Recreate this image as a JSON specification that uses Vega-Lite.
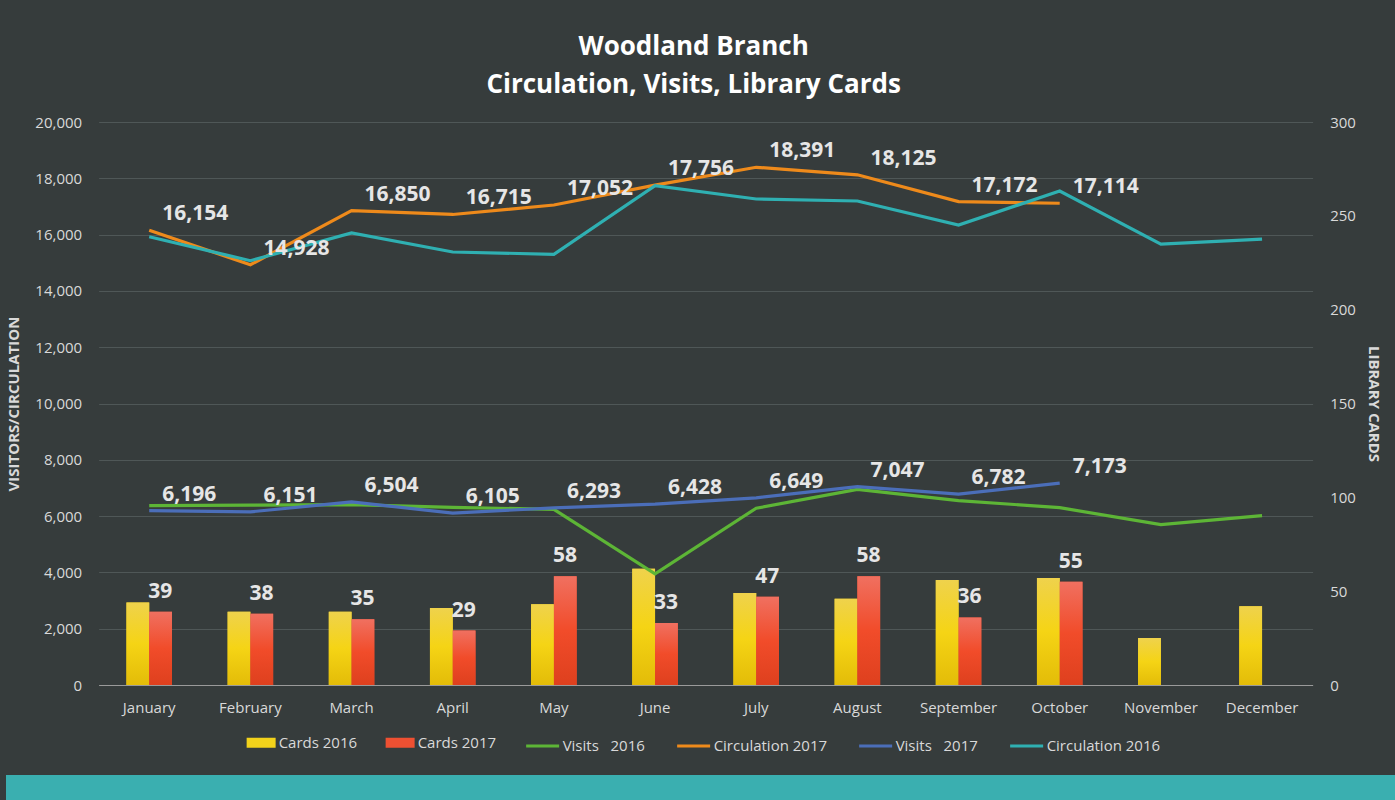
{
  "$schema": "https://vega.github.io/schema/vega-lite/v6.json",
  "background": "#363C3C",
  "padding": {"top": 34, "left": 6, "right": 0, "bottom": 0},
  "spacing": 21,
  "center": true,
  "resolve": {"legend": {"fill": "independent", "stroke": "independent"}},
  "config": {
    "font": "Open Sans",
    "view": {"stroke": null},
    "axis": {
      "labelFont": "Open Sans",
      "labelColor": "#D9D9D9",
      "labelFontSize": 15,
      "titleFont": "Open Sans",
      "titleColor": "#D9D9D9",
      "titleFontSize": 15,
      "titleFontWeight": "bold",
      "domain": false,
      "ticks": false,
      "tickSize": 0
    },
    "legend": {
      "labelFont": "Open Sans",
      "labelColor": "#D9D9D9",
      "labelFontSize": 15,
      "padding": 0
    }
  },
  "datasets": {
    "cards": [
      {"month": "January", "series": "Cards 2016", "value": 44},
      {"month": "February", "series": "Cards 2016", "value": 39},
      {"month": "March", "series": "Cards 2016", "value": 39},
      {"month": "April", "series": "Cards 2016", "value": 41},
      {"month": "May", "series": "Cards 2016", "value": 43},
      {"month": "June", "series": "Cards 2016", "value": 62},
      {"month": "July", "series": "Cards 2016", "value": 49},
      {"month": "August", "series": "Cards 2016", "value": 46},
      {"month": "September", "series": "Cards 2016", "value": 56},
      {"month": "October", "series": "Cards 2016", "value": 57},
      {"month": "November", "series": "Cards 2016", "value": 25},
      {"month": "December", "series": "Cards 2016", "value": 42},
      {"month": "January", "series": "Cards 2017", "value": 39},
      {"month": "February", "series": "Cards 2017", "value": 38},
      {"month": "March", "series": "Cards 2017", "value": 35},
      {"month": "April", "series": "Cards 2017", "value": 29},
      {"month": "May", "series": "Cards 2017", "value": 58},
      {"month": "June", "series": "Cards 2017", "value": 33},
      {"month": "July", "series": "Cards 2017", "value": 47},
      {"month": "August", "series": "Cards 2017", "value": 58},
      {"month": "September", "series": "Cards 2017", "value": 36},
      {"month": "October", "series": "Cards 2017", "value": 55}
    ],
    "lines": [
      {"month": "January", "series": "Visits\u00a0\u00a0\u00a02016", "value": 6370},
      {"month": "February", "series": "Visits\u00a0\u00a0\u00a02016", "value": 6390},
      {"month": "March", "series": "Visits\u00a0\u00a0\u00a02016", "value": 6405},
      {"month": "April", "series": "Visits\u00a0\u00a0\u00a02016", "value": 6310},
      {"month": "May", "series": "Visits\u00a0\u00a0\u00a02016", "value": 6240},
      {"month": "June", "series": "Visits\u00a0\u00a0\u00a02016", "value": 3945},
      {"month": "July", "series": "Visits\u00a0\u00a0\u00a02016", "value": 6280},
      {"month": "August", "series": "Visits\u00a0\u00a0\u00a02016", "value": 6950},
      {"month": "September", "series": "Visits\u00a0\u00a0\u00a02016", "value": 6550},
      {"month": "October", "series": "Visits\u00a0\u00a0\u00a02016", "value": 6300},
      {"month": "November", "series": "Visits\u00a0\u00a0\u00a02016", "value": 5695},
      {"month": "December", "series": "Visits\u00a0\u00a0\u00a02016", "value": 6015},
      {"month": "January", "series": "Circulation 2017", "value": 16154},
      {"month": "February", "series": "Circulation 2017", "value": 14928},
      {"month": "March", "series": "Circulation 2017", "value": 16850},
      {"month": "April", "series": "Circulation 2017", "value": 16715},
      {"month": "May", "series": "Circulation 2017", "value": 17052},
      {"month": "June", "series": "Circulation 2017", "value": 17756},
      {"month": "July", "series": "Circulation 2017", "value": 18391},
      {"month": "August", "series": "Circulation 2017", "value": 18125},
      {"month": "September", "series": "Circulation 2017", "value": 17172},
      {"month": "October", "series": "Circulation 2017", "value": 17114},
      {"month": "January", "series": "Visits\u00a0\u00a0\u00a02017", "value": 6196},
      {"month": "February", "series": "Visits\u00a0\u00a0\u00a02017", "value": 6151},
      {"month": "March", "series": "Visits\u00a0\u00a0\u00a02017", "value": 6504},
      {"month": "April", "series": "Visits\u00a0\u00a0\u00a02017", "value": 6105},
      {"month": "May", "series": "Visits\u00a0\u00a0\u00a02017", "value": 6293},
      {"month": "June", "series": "Visits\u00a0\u00a0\u00a02017", "value": 6428},
      {"month": "July", "series": "Visits\u00a0\u00a0\u00a02017", "value": 6649},
      {"month": "August", "series": "Visits\u00a0\u00a0\u00a02017", "value": 7047},
      {"month": "September", "series": "Visits\u00a0\u00a0\u00a02017", "value": 6782},
      {"month": "October", "series": "Visits\u00a0\u00a0\u00a02017", "value": 7173},
      {"month": "January", "series": "Circulation 2016", "value": 15925},
      {"month": "February", "series": "Circulation 2016", "value": 15073},
      {"month": "March", "series": "Circulation 2016", "value": 16057},
      {"month": "April", "series": "Circulation 2016", "value": 15382},
      {"month": "May", "series": "Circulation 2016", "value": 15300},
      {"month": "June", "series": "Circulation 2016", "value": 17737},
      {"month": "July", "series": "Circulation 2016", "value": 17265},
      {"month": "August", "series": "Circulation 2016", "value": 17194},
      {"month": "September", "series": "Circulation 2016", "value": 16341},
      {"month": "October", "series": "Circulation 2016", "value": 17549},
      {"month": "November", "series": "Circulation 2016", "value": 15660},
      {"month": "December", "series": "Circulation 2016", "value": 15840}
    ]
  },
  "vconcat": [
    {
      "title": {
        "text": ["Woodland Branch", "Circulation, Visits, Library Cards"],
        "font": "Open Sans",
        "fontSize": 26,
        "fontWeight": "bold",
        "color": "#FFFFFF",
        "lineHeight": 38,
        "anchor": "middle",
        "frame": "bounds",
        "offset": 17
      },
      "width": 1214,
      "height": 563,
      "encoding": {
        "x": {
          "field": "month",
          "type": "nominal",
          "sort": ["January", "February", "March", "April", "May", "June", "July", "August", "September", "October", "November", "December"],
          "scale": {"paddingInner": 0.55, "paddingOuter": 0.275},
          "axis": {
            "title": null,
            "labelAngle": 0,
            "labelPadding": 15,
            "domain": true,
            "domainColor": "#9A9A9A",
            "domainWidth": 1,
            "grid": false
          }
        }
      },
      "layer": [
        {
          "data": {"name": "cards"},
          "encoding": {
            "y": {
              "field": "value",
              "type": "quantitative",
              "scale": {"domain": [0, 300]},
              "axis": {
                "orient": "right",
                "title": "LIBRARY CARDS",
                "values": [0, 50, 100, 150, 200, 250, 300],
                "grid": false,
                "labelPadding": 17,
                "titlePadding": 10
              }
            }
          },
          "layer": [
            {
              "mark": {"type": "bar"},
              "encoding": {
                "xOffset": {"field": "series", "type": "nominal", "scale": {"domain": ["Cards 2016", "Cards 2017"], "paddingInner": 0, "paddingOuter": 0}},
                "fill": {
                  "field": "series",
                  "type": "nominal",
                  "scale": {"domain": ["Cards 2016", "Cards 2017"], "range": ["#F2D21B", "#EE5032"]},
                  "legend": {
                    "orient": "none",
                    "legendX": 148,
                    "legendY": 606,
                    "direction": "horizontal",
                    "title": null,
                    "symbolType": "M-1,-0.345H1V0.345H-1Z",
                    "symbolSize": 841,
                    "symbolStrokeWidth": 0,
                    "columnPadding": 28,
                    "labelOffset": 3
                  }
                }
              }
            },
            {
              "transform": [{"filter": "datum.series === 'Cards 2016'"}],
              "mark": {
                "type": "bar",
                "color": {
                  "gradient": "linear",
                  "x1": 0, "y1": 0, "x2": 0, "y2": 1,
                  "stops": [
                    {"offset": 0, "color": "#EFD24C"},
                    {"offset": 0.5, "color": "#F5D415"},
                    {"offset": 1, "color": "#E3BC08"}
                  ]
                }
              },
              "encoding": {
                "xOffset": {"field": "series", "type": "nominal", "scale": {"domain": ["Cards 2016", "Cards 2017"], "paddingInner": 0, "paddingOuter": 0}}
              }
            },
            {
              "transform": [{"filter": "datum.series === 'Cards 2017'"}],
              "mark": {
                "type": "bar",
                "color": {
                  "gradient": "linear",
                  "x1": 0, "y1": 0, "x2": 0, "y2": 1,
                  "stops": [
                    {"offset": 0, "color": "#F07060"},
                    {"offset": 0.5, "color": "#F14C2A"},
                    {"offset": 1, "color": "#DE401E"}
                  ]
                }
              },
              "encoding": {
                "xOffset": {"field": "series", "type": "nominal", "scale": {"domain": ["Cards 2016", "Cards 2017"], "paddingInner": 0, "paddingOuter": 0}}
              }
            },
            {
              "transform": [{"filter": "datum.series === 'Cards 2017'"}],
              "mark": {"type": "text", "dx": 11, "dy": -20, "align": "center", "baseline": "middle", "font": "Open Sans", "fontSize": 21, "fontWeight": "bold", "color": "#E6E6E6"},
              "encoding": {
                "text": {"field": "value", "type": "quantitative"}
              }
            }
          ]
        },
        {
          "data": {"name": "lines"},
          "encoding": {
            "y": {
              "field": "value",
              "type": "quantitative",
              "scale": {"domain": [0, 20000]},
              "axis": {
                "orient": "left",
                "title": "VISITORS/CIRCULATION",
                "values": [0, 2000, 4000, 6000, 8000, 10000, 12000, 14000, 16000, 18000, 20000],
                "format": ",.0f",
                "grid": true,
                "gridColor": "#4F5757",
                "gridWidth": 1,
                "labelPadding": 17,
                "titlePadding": 13
              }
            }
          },
          "layer": [
            {
              "mark": {"type": "line", "strokeWidth": 3.2},
              "encoding": {
                "stroke": {
                  "field": "series",
                  "type": "nominal",
                  "scale": {
                    "domain": ["Visits\u00a0\u00a0\u00a02016", "Circulation 2017", "Visits\u00a0\u00a0\u00a02017", "Circulation 2016"],
                    "range": ["#5DB536", "#EE8A1B", "#4B6EB9", "#2FB0B2"]
                  },
                  "legend": {
                    "orient": "none",
                    "legendX": 426,
                    "legendY": 606,
                    "direction": "horizontal",
                    "title": null,
                    "symbolType": "stroke",
                    "symbolSize": 1089,
                    "symbolStrokeWidth": 3,
                    "columnPadding": 25,
                    "labelOffset": 2
                  }
                }
              }
            },
            {
              "transform": [{"filter": {"field": "series", "oneOf": ["Circulation 2017", "Visits\u00a0\u00a0\u00a02017"]}}],
              "mark": {"type": "text", "dx": 13, "dy": -16, "align": "left", "baseline": "middle", "font": "Open Sans", "fontSize": 21, "fontWeight": "bold", "color": "#E6E6E6"},
              "encoding": {
                "text": {"field": "value", "type": "quantitative", "format": ","}
              }
            }
          ]
        }
      ],
      "resolve": {"scale": {"y": "independent"}}
    },
    {
      "width": 1467,
      "height": 27,
      "data": {"values": [{}]},
      "mark": {"type": "text"},
      "encoding": {},
      "view": {"fill": "#3AAFB0", "stroke": null}
    }
  ]
}
